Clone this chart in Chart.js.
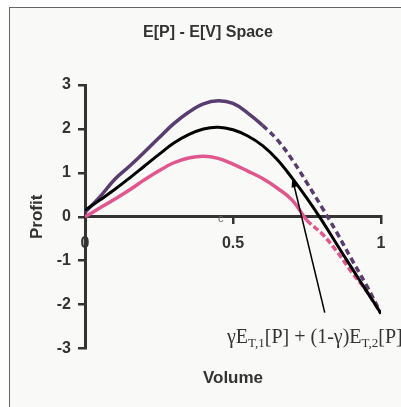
<!DOCTYPE html>
<html>
<head>
<meta charset="utf-8">
<script src="https://cdn.jsdelivr.net/npm/chart.js@4.4.1/dist/chart.umd.min.js"></script>
<style>
  html, body { margin: 0; padding: 0; background: #ffffff; }
  body { width: 401px; height: 407px; position: relative; overflow: hidden; }
  #frame {
    position: absolute; left: 9px; top: 7px; width: 500px; height: 500px;
    border: 1px solid #666; background: #f9f9f7;
  }
  #chart { position: absolute; left: 0; top: 0; }
  #title {
    position: absolute; left: 0; top: 22px; width: 416px; text-align: center;
    font: bold 16px "Liberation Sans", Arial, sans-serif; line-height: 20px; color: #333;
  }
  #formula {
    position: absolute; left: 227px; top: 326px; white-space: nowrap;
    font: 20px "Liberation Serif", "Times New Roman", serif; line-height: 20px; color: #333;
  }
  #formula sub { font-size: 13px; vertical-align: -4px; line-height: 0; }
  #cmark {
    position: absolute; left: 218px; top: 212px;
    font: 11px "Liberation Sans", Arial, sans-serif; color: #666;
  }
</style>
</head>
<body>
<div id="frame"></div>
<canvas id="chart" width="401" height="407"></canvas>
<div id="title">E[P] - E[V] Space</div>
<div id="formula">&gamma;E<sub>T,1</sub>[P] + (1-&gamma;)E<sub>T,2</sub>[P]</div>
<div id="cmark">c</div>
<script>
// volume grid and profit curves
const volume = [0, 0.05, 0.1, 0.15, 0.2, 0.25, 0.3, 0.35, 0.4, 0.45, 0.5,
  0.55, 0.6, 0.65, 0.7, 0.75, 0.8, 0.85, 0.9, 0.95, 1];
const profitHigh = [0.1, 0.45, 0.85, 1.15, 1.47, 1.8, 2.12, 2.38, 2.57, 2.64, 2.58,
  2.36, 2.08, 1.75, 1.3, 0.77, 0.22, -0.35, -0.96, -1.55, -2.2];
const profitMix = [0.15, 0.38, 0.62, 0.88, 1.15, 1.42, 1.68, 1.87, 2.0, 2.04, 1.98,
  1.84, 1.62, 1.3, 0.88, 0.42, -0.08, -0.62, -1.15, -1.68, -2.2];
const profitLow = [0, 0.2, 0.4, 0.61, 0.84, 1.05, 1.23, 1.34, 1.38, 1.33, 1.2,
  1.04, 0.87, 0.65, 0.38, -0.08, -0.38, -0.78, -1.25, -1.68, -2.2];

// arrow from the formula label to the mixed curve (data coords)
const arrowFrom = { x: 0.81, y: -2.18 };
const arrowTo = { x: 0.70, y: 0.89 };

function toPoints(ys) {
  return volume.map((v, i) => ({ x: v, y: ys[i] }));
}

const arrowPlugin = {
  id: "arrow",
  afterDatasetsDraw(chart) {
    const { ctx, scales: { x, y } } = chart;
    const x1 = x.getPixelForValue(arrowFrom.x), y1 = y.getPixelForValue(arrowFrom.y);
    const x2 = x.getPixelForValue(arrowTo.x), y2 = y.getPixelForValue(arrowTo.y);
    const ang = Math.atan2(y2 - y1, x2 - x1);
    ctx.save();
    ctx.strokeStyle = "#000";
    ctx.fillStyle = "#000";
    ctx.lineWidth = 1.5;
    ctx.beginPath();
    ctx.moveTo(x1, y1);
    ctx.lineTo(x2, y2);
    ctx.stroke();
    ctx.beginPath();
    ctx.moveTo(x2, y2);
    ctx.lineTo(x2 - 10 * Math.cos(ang - 0.3), y2 - 10 * Math.sin(ang - 0.3));
    ctx.lineTo(x2 - 10 * Math.cos(ang + 0.3), y2 - 10 * Math.sin(ang + 0.3));
    ctx.closePath();
    ctx.fill();
    ctx.restore();
  },
};

const dashAfter = (limit, dash) => ({
  borderDash: (c) => (c.p0.parsed.x >= limit ? dash : undefined),
});

const tickFont = { family: "Liberation Sans", size: 16, weight: "bold" };

const ctx = document.getElementById("chart").getContext("2d");
new Chart(ctx, {
  type: "line",
  data: {
    datasets: [
      {
        label: "Mix",
        data: toPoints(profitMix),
        borderColor: "#000000",
        borderWidth: 3,
      },
      {
        label: "High",
        data: toPoints(profitHigh),
        borderColor: "#5a3d70",
        borderWidth: 3.5,
        segment: dashAfter(0.6, [6, 4]),
      },
      {
        label: "Low",
        data: toPoints(profitLow),
        borderColor: "#e0578e",
        borderWidth: 3.5,
        segment: dashAfter(0.75, [6, 3]),
      },
    ],
  },
  options: {
    responsive: false,
    animation: false,
    devicePixelRatio: 1,
    elements: { point: { radius: 0 }, line: { tension: 0.4 } },
    layout: { padding: { left: 0, right: 20, top: 85, bottom: 0 } },
    plugins: {
      legend: { display: false },
      tooltip: { enabled: false },
      title: { display: false },
      subtitle: {
        display: true,
        position: "bottom",
        fullSize: false,
        text: "Volume",
        color: "#333",
        font: { family: "Liberation Sans", size: 17, weight: "bold" },
        padding: { top: 20, bottom: 18 },
      },
    },
    scales: {
      x: {
        type: "linear",
        position: { y: 0 },
        min: 0,
        max: 1,
        ticks: {
          stepSize: 0.5,
          color: "#333",
          padding: 11,
          font: tickFont,
          callback: (v) => String(v),
        },
        grid: { drawOnChartArea: false, tickLength: 6, lineWidth: 2.5, color: "#333" },
        border: { display: true, width: 3, color: "#333" },
      },
      y: {
        min: -3,
        max: 3,
        afterFit: (scale) => { scale.width = 85; },
        ticks: {
          stepSize: 1,
          color: "#333",
          padding: 7,
          font: tickFont,
        },
        grid: { drawOnChartArea: false, tickLength: 7, lineWidth: 2.5, color: "#333" },
        border: { display: true, width: 3, color: "#333" },
        title: {
          display: true,
          text: "Profit",
          color: "#333",
          font: { family: "Liberation Sans", size: 17, weight: "bold" },
          padding: { top: 27, bottom: 0 },
        },
      },
    },
  },
  plugins: [arrowPlugin],
});
</script>
</body>
</html>
